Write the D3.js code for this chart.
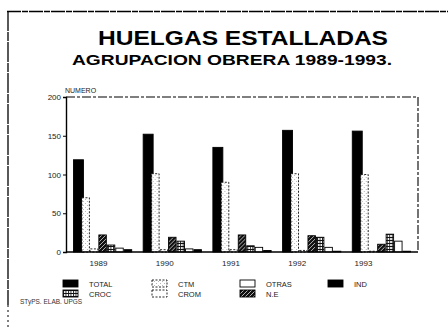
<!DOCTYPE html>
<html>
<head>
<meta charset="utf-8">
<script src="https://cdn.jsdelivr.net/npm/d3@7"></script>
<style>
  html, body { margin: 0; padding: 0; background: #fff; }
  svg { display: block; font-family: "Liberation Sans", Arial, sans-serif; }
</style>
</head>
<body>
<svg id="chart" width="448" height="335"></svg>
<script>
// Strikes by labour confederation, 1989-1993
const years = ["1989", "1990", "1991", "1992", "1993"];
const seriesNames = ["TOTAL", "CTM", "CROM", "N.E", "CROC", "OTRAS", "IND"];
const total = [119, 152, 135, 157, 156];
const ctm   = [70, 101, 90, 101, 100];
const crom  = [4, 3, 3, 2, 1];
const ne    = [22, 19, 22, 21, 10];
const croc  = [9, 14, 8, 19, 23];
const otras = [5, 4, 6, 6, 14];
const ind   = [3, 3, 2, 1, 1];
const yTicks = [0, 50, 100, 150, 200];
const legendRows = [["TOTAL", "CTM", "OTRAS", "IND"], ["CROC", "CROM", "N.E"]];

const valuesBySeries = {
  "TOTAL": total, "CTM": ctm, "CROM": crom, "N.E": ne,
  "CROC": croc, "OTRAS": otras, "IND": ind
};

const svg = d3.select("#chart");
const defs = svg.append("defs");

// fill patterns
const pCtm = defs.append("pattern").attr("id", "p-ctm")
  .attr("patternUnits", "userSpaceOnUse").attr("width", 4).attr("height", 4);
pCtm.append("rect").attr("width", 4).attr("height", 4).attr("fill", "#fff");
pCtm.append("path").attr("d", "M0,4 L4,0").attr("stroke", "#555").attr("stroke-width", 0.6)
  .attr("stroke-dasharray", "1,2");

const pCroc = defs.append("pattern").attr("id", "p-croc")
  .attr("patternUnits", "userSpaceOnUse").attr("width", 2.5).attr("height", 3);
pCroc.append("rect").attr("width", 2.5).attr("height", 3).attr("fill", "#fff");
pCroc.append("path").attr("d", "M0.5,0 V3 M0,0.5 H2.5").attr("stroke", "#111").attr("stroke-width", 0.9);

const pNe = defs.append("pattern").attr("id", "p-ne")
  .attr("patternUnits", "userSpaceOnUse").attr("width", 4).attr("height", 4);
pNe.append("rect").attr("width", 4).attr("height", 4).attr("fill", "#111");
pNe.append("path").attr("d", "M0,4 L4,0").attr("stroke", "#ddd").attr("stroke-width", 0.8);

const styles = {
  "TOTAL": { fill: "#000", stroke: "#000", dash: null },
  "CTM":   { fill: "url(#p-ctm)", stroke: "#111", dash: "2,1.5" },
  "CROM":  { fill: "#fff", stroke: "#111", dash: "2,1.5" },
  "N.E":   { fill: "url(#p-ne)", stroke: "#000", dash: null },
  "CROC":  { fill: "url(#p-croc)", stroke: "#000", dash: null },
  "OTRAS": { fill: "#fff", stroke: "#000", dash: null },
  "IND":   { fill: "#000", stroke: "#000", dash: null }
};

// page frame lines
svg.append("line").attr("x1", 7).attr("x2", 448).attr("y1", 11.5).attr("y2", 11.5)
  .attr("stroke", "#000").attr("stroke-width", 1.3).attr("stroke-dasharray", "14,1,6,1");
svg.append("line").attr("x1", 8).attr("x2", 8).attr("y1", 11).attr("y2", 305)
  .attr("stroke", "#000").attr("stroke-width", 1.3).attr("stroke-dasharray", "20,1,9,1");
svg.append("line").attr("x1", 8).attr("x2", 8).attr("y1", 305).attr("y2", 328)
  .attr("stroke", "#000").attr("stroke-width", 1).attr("stroke-dasharray", "2,3");

// titles
svg.append("text").attr("x", 98).attr("y", 45)
  .attr("font-size", 21).attr("font-weight", "bold")
  .attr("textLength", 290).attr("lengthAdjust", "spacingAndGlyphs")
  .text("HUELGAS ESTALLADAS");
svg.append("text").attr("x", 72).attr("y", 65)
  .attr("font-size", 15.5).attr("font-weight", "bold")
  .attr("textLength", 320).attr("lengthAdjust", "spacingAndGlyphs")
  .text("AGRUPACION OBRERA 1989-1993.");

// scales
const x0 = d3.scaleBand().domain(years).range([66, 418]).paddingInner(0.15).paddingOuter(0.1);
const x1 = d3.scaleBand().domain(seriesNames).range([0, x0.bandwidth()]);
const y = d3.scaleLinear().domain([0, 200]).range([252, 97]);
const xLabel = d3.scalePoint().domain(years).range([98, 363]);

// plot frame: dashed top and right edges
svg.append("path")
  .attr("d", `M${66},${y(200)} H418 V${y(0)}`)
  .attr("fill", "none").attr("stroke", "#000").attr("stroke-width", 1.1)
  .attr("stroke-dasharray", "9,2,3,2");

// bars
const groups = svg.append("g").selectAll("g").data(years).join("g")
  .attr("transform", d => `translate(${x0(d)},0)`);
groups.selectAll("rect")
  .data((yr, i) => seriesNames.map(s => ({ s, v: valuesBySeries[s][i] })))
  .join("rect")
  .attr("x", d => x1(d.s) + 0.5)
  .attr("y", d => y(d.v))
  .attr("width", d => d.s === "TOTAL" ? x1.bandwidth() + 1.5 : x1.bandwidth() - 1)
  .attr("height", d => y(0) - y(d.v))
  .attr("fill", d => styles[d.s].fill)
  .attr("stroke", d => styles[d.s].stroke)
  .attr("stroke-width", 0.9)
  .attr("stroke-dasharray", d => styles[d.s].dash);

// y axis
const yAxis = svg.append("g").attr("transform", "translate(66,0)")
  .call(d3.axisLeft(y).tickValues(yTicks).tickSize(3).tickPadding(2));
yAxis.select(".domain").attr("stroke-width", 1.4);
yAxis.selectAll("text").attr("font-size", 8).attr("fill", "#222")
  .attr("font-family", "'Liberation Sans', Arial, sans-serif");

// baseline
svg.append("line").attr("x1", 66).attr("x2", 418).attr("y1", y(0)).attr("y2", y(0))
  .attr("stroke", "#000").attr("stroke-width", 1.3);

// x labels
const xAxis = svg.append("g").attr("transform", `translate(0,${y(0)})`)
  .call(d3.axisBottom(xLabel).tickSize(0).tickPadding(8));
xAxis.select(".domain").remove();
xAxis.selectAll("text").attr("font-size", 8).attr("fill", "#222")
  .attr("font-family", "'Liberation Sans', Arial, sans-serif");

// axis title
svg.append("text").attr("x", 65).attr("y", 93).attr("font-size", 7).attr("fill", "#222").text("NUMERO");

// legend
const legendX = [63, 152, 240, 328];
const legendY = [280, 290];
legendRows.forEach((row, r) => {
  row.forEach((name, c) => {
    const g = svg.append("g").attr("transform", `translate(${legendX[c]},${legendY[r]})`);
    g.append("rect").attr("width", 15).attr("height", 7)
      .attr("fill", styles[name].fill).attr("stroke", styles[name].stroke)
      .attr("stroke-width", 0.9).attr("stroke-dasharray", styles[name].dash);
    g.append("text").attr("x", 26).attr("y", 6.5).attr("font-size", 7.5).attr("fill", "#222").text(name);
  });
});

// source note
svg.append("text").attr("x", 20).attr("y", 304).attr("font-size", 6.5).attr("fill", "#333")
  .text("STyPS. ELAB. UPGS");
</script>
</body>
</html>
